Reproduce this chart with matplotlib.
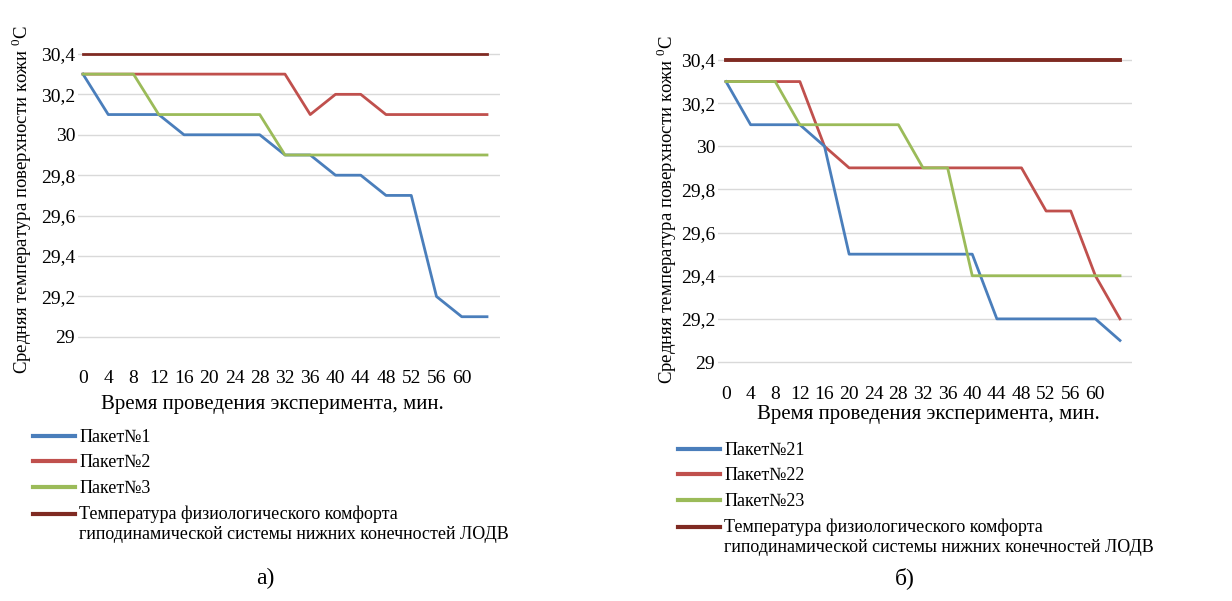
import matplotlib

matplotlib.use("Agg")
import matplotlib.pyplot as plt
import numpy as np
from matplotlib.legend_handler import HandlerLine2D

W, H = 1232, 601

minutes = [0, 4, 8, 12, 16, 20, 24, 28, 32, 36, 40, 44, 48, 52, 56, 60, 64]
tick_minutes = [0, 4, 8, 12, 16, 20, 24, 28, 32, 36, 40, 44, 48, 52, 56, 60]
y_ticks = [29.0, 29.2, 29.4, 29.6, 29.8, 30.0, 30.2, 30.4]
y_tick_labels = ["29", "29,2", "29,4", "29,6", "29,8", "30", "30,2", "30,4"]

# panel а)
pack1 = [30.3, 30.1, 30.1, 30.1, 30.0, 30.0, 30.0, 30.0, 29.9, 29.9, 29.8, 29.8, 29.7, 29.7, 29.2, 29.1, 29.1]
pack2 = [30.3, 30.3, 30.3, 30.3, 30.3, 30.3, 30.3, 30.3, 30.3, 30.1, 30.2, 30.2, 30.1, 30.1, 30.1, 30.1, 30.1]
pack3 = [30.3, 30.3, 30.3, 30.1, 30.1, 30.1, 30.1, 30.1, 29.9, 29.9, 29.9, 29.9, 29.9, 29.9, 29.9, 29.9, 29.9]

# panel б)
pack21 = [30.3, 30.1, 30.1, 30.1, 30.0, 29.5, 29.5, 29.5, 29.5, 29.5, 29.5, 29.2, 29.2, 29.2, 29.2, 29.2, 29.1]
pack22 = [30.3, 30.3, 30.3, 30.3, 30.0, 29.9, 29.9, 29.9, 29.9, 29.9, 29.9, 29.9, 29.9, 29.7, 29.7, 29.4, 29.2]
pack23 = [30.3, 30.3, 30.3, 30.1, 30.1, 30.1, 30.1, 30.1, 29.9, 29.9, 29.4, 29.4, 29.4, 29.4, 29.4, 29.4, 29.4]

comfort = [30.4] * len(minutes)

comfort_label = "Температура физиологического комфорта\nгиподинамической системы нижних конечностей ЛОДВ"
ylabel = r"Средняя температура поверхности кожи $^0$C"
xlabel = "Время проведения эксперимента, мин."

BLUE = "#4a7ebb"
RED = "#c0504d"
GREEN = "#9bbb59"
MAROON = "#7f2a22"

plt.rcParams["font.family"] = ["Liberation Serif", "DejaVu Serif"]
plt.rcParams["mathtext.fontset"] = "custom"
plt.rcParams["mathtext.rm"] = "Liberation Serif"


class FirstLineHandler(HandlerLine2D):
    """Put the legend line next to the first line of a two-line label."""

    def create_artists(self, legend, orig_handle, xdescent, ydescent, width, height, fontsize, trans):
        artists = super().create_artists(legend, orig_handle, xdescent, ydescent, width, height, fontsize, trans)
        for a in artists:
            a.set_ydata(np.asarray(a.get_ydata()) + 0.55 * fontsize)
        return artists


def box(left, top, right, bottom):
    return [left / W, 1 - bottom / H, (right - left) / W, (bottom - top) / H]


def draw_panel(fig, rect, xlim, ylim, series, labels, comfort_lw, ylab_x, ylab_y, xlab_xy, legend_xy, caption_xy, caption):
    ax = fig.add_axes(rect)
    for vals, color, z in zip(series, [BLUE, RED, GREEN], [2.1, 2.0, 2.2]):
        # green over blue over red, as in the source
        ax.plot(minutes, vals, color=color, lw=2.0, zorder=z)
    comfort_line, = ax.plot(minutes, comfort, color=MAROON, lw=comfort_lw)
    ax.set_xlim(*xlim)
    ax.set_ylim(*ylim)
    ax.set_xticks(tick_minutes)
    ax.set_xticklabels([str(m) for m in tick_minutes], fontsize=14)
    ax.set_yticks(y_ticks)
    ax.set_yticklabels(y_tick_labels, fontsize=14)
    ax.tick_params(length=0, pad=2)
    ax.tick_params(axis="x", pad=6)
    ax.grid(axis="y", color="#d9d9d9", lw=1)
    ax.set_axisbelow(True)
    for sp in ax.spines.values():
        sp.set_visible(False)

    fig.text(ylab_x / W, 1 - ylab_y / H, ylabel, rotation=90, fontsize=13.5, ha="center", va="center")
    fig.text(xlab_xy[0] / W, 1 - xlab_xy[1] / H, xlabel, fontsize=15, ha="center", va="center")
    fig.text(caption_xy[0] / W, 1 - caption_xy[1] / H, caption, fontsize=17, ha="center", va="center")

    leg = fig.legend(ax.lines, labels + [comfort_label], loc="upper left",
                     bbox_to_anchor=(legend_xy[0] / W, 1 - legend_xy[1] / H),
                     handler_map={comfort_line: FirstLineHandler()},
                     frameon=False, fontsize=13, handlelength=2.3, handletextpad=0.25,
                     labelspacing=0.47, borderpad=0, borderaxespad=0)
    for h in leg.legend_handles:
        h.set_linewidth(3)
    return ax


fig = plt.figure(figsize=(W / 100, H / 100), dpi=100)

draw_panel(fig, box(78, 44, 500, 362), (-0.79, 66.06), (28.876, 30.449),
           [pack1, pack2, pack3], ["Пакет№1", "Пакет№2", "Пакет№3"], 2.0,
           22, 200, (272, 404), (33, 429), (265, 578), "а)")

draw_panel(fig, box(718, 49, 1132, 378), (-1.3, 65.95), (28.926, 30.451),
           [pack21, pack22, pack23], ["Пакет№21", "Пакет№22", "Пакет№23"], 2.8,
           667, 210, (928, 415), (678, 442), (905, 578), "б)")

fig.savefig("out.png", dpi=100)
plt.close(fig)
